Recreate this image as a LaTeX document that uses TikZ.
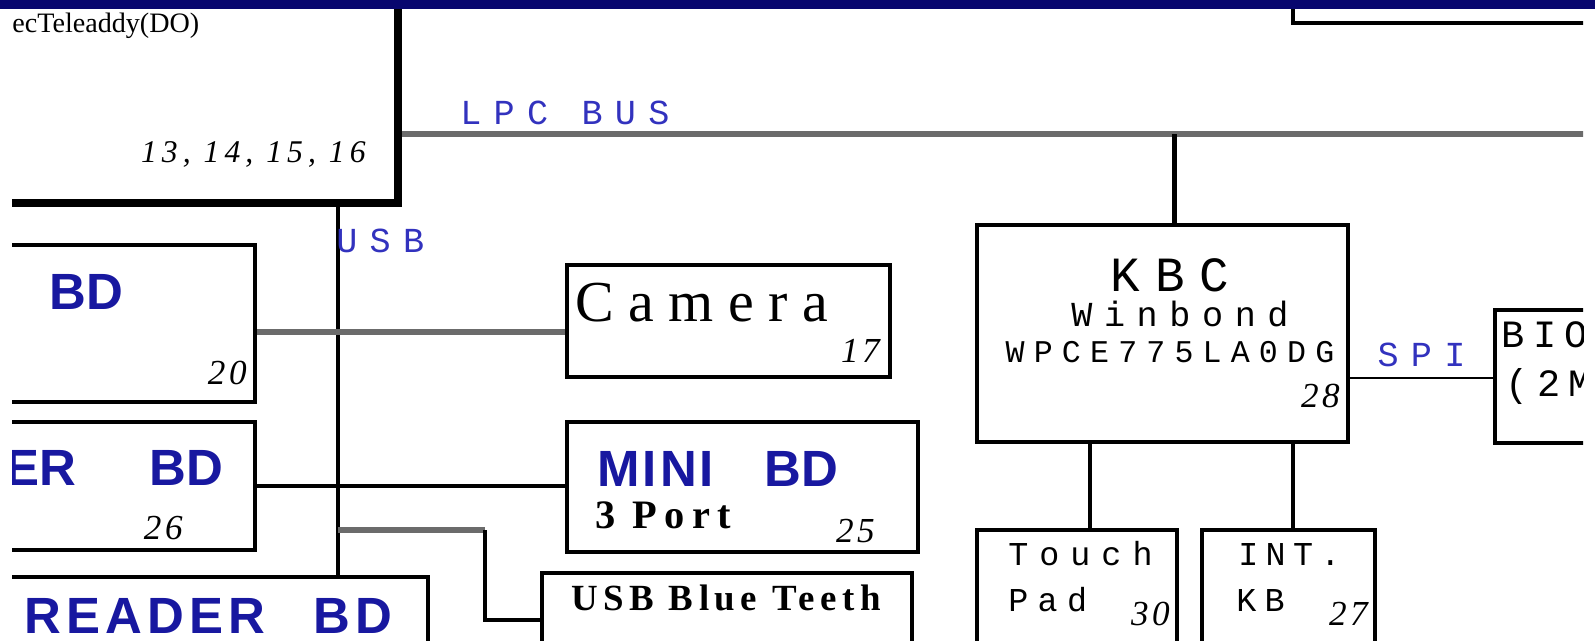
\documentclass[tikz,border=0pt]{standalone}
\usepackage{fontspec}
\setmainfont{Liberation Serif}
\newfontfamily\labelsans{Liberation Sans}
\newfontfamily\chipfont{Liberation Mono}
\usetikzlibrary{positioning}

\definecolor{navybar}{RGB}{8,6,110}
\definecolor{titleblue}{RGB}{24,24,160}
\definecolor{busblue}{RGB}{50,50,190}
\definecolor{wiregray}{RGB}{107,107,107}

\newcommand{\spaced}[2]{{\addfontfeature{LetterSpace=#1}#2}}

\begin{document}
\begin{tikzpicture}[
    x=0.02cm, y=-0.02cm,
    % Styles
    box/.style={
        rectangle,
        draw=black,
        line width=2.6pt,
        inner sep=0pt
    },
    sbbox/.style={
        box,
        line width=4.6pt
    },
    wire/.style={
        line width=2.3pt,
        black
    },
    graywire/.style={
        line width=3pt,
        wiregray
    },
    bus/.style={
        line width=3.6pt,
        wiregray
    },
    title/.style={
        inner sep=0pt,
        text=titleblue,
        font=\fontsize{29}{32}\selectfont\labelsans\bfseries
    },
    buslabel/.style={
        inner sep=0pt,
        text=busblue,
        font=\fontsize{20}{22}\selectfont\chipfont
    },
    chip/.style={
        inner sep=0pt,
        font=\fontsize{#1}{#1}\selectfont\chipfont
    },
    chip/.default=19,
    pgnum/.style={
        inner sep=0pt,
        anchor=base east,
        font=\fontsize{20}{22}\selectfont\itshape
    }
]
\useasboundingbox (0,0) rectangle (1595,641);

\begin{scope}
\clip (12,0) rectangle (1583,641);

% South bridge (only its corner shows)
\node[sbbox, minimum width=9.96cm, minimum height=6.06cm] (sb) at (149,51.5) {};
\node[inner sep=0pt, anchor=base west, font=\fontsize{16}{18}\selectfont] (sbname) at (12,33) {ecTeleaddy(DO)};
\node[inner sep=0pt, anchor=base east, font=\fontsize{18}{20}\selectfont\itshape] (sbpages) at (366,163) {\spaced{16}{13, 14, 15, 16}};

% Box at the top right
\node[box, line width=2pt, minimum width=8.14cm, minimum height=2.46cm] (topbox) at (1496.5,-38.5) {};

% Boards on the left
\node[box, minimum width=7.1cm, minimum height=3.14cm] (bd) at (77.5,323.5) {};
\node[title, anchor=base west] (bdname) at (49,310) {BD};
\node[pgnum] (bdpage) at (247,385) {\spaced{10}{20}};

\node[box, minimum width=7.1cm, minimum height=2.56cm] (erbd) at (77.5,486) {};
\node[title, anchor=base east] (erbdname) at (224,485) {ER\hspace{1.45em}BD};
\node[pgnum] (erbdpage) at (183,540) {\spaced{10}{26}};

\node[box, minimum width=10.56cm, minimum height=3.26cm] (reader) at (164,658.5) {};
\node[title, anchor=base west] (readername) at (24,633) {\spaced{10}{READER\hspace{0.95em}BD}};

% USB devices
\node[box, minimum width=6.46cm, minimum height=2.24cm] (camera) at (728.5,321) {};
\node[inner sep=0pt, anchor=base west, font=\fontsize{33}{36}\selectfont] (cameraname) at (575,322) {\spaced{25}{Camera}};
\node[pgnum] (camerapage) at (880,363) {\spaced{10}{17}};

\node[box, minimum width=7.02cm, minimum height=2.6cm] (mini) at (742.5,487) {};
\node[title, anchor=base west] (mininame) at (597,486) {\spaced{6}{MINI}\hspace{1em}BD};
\node[inner sep=0pt, anchor=base west, font=\fontsize{23}{25}\selectfont\bfseries] (miniports) at (595,528) {\spaced{18}{3 Port}};
\node[pgnum] (minipage) at (875,542) {\spaced{10}{25}};

\node[box, minimum width=7.4cm, minimum height=3.34cm] (bt) at (727,656.5) {};
\node[inner sep=0pt, anchor=base west, font=\fontsize{21}{23}\selectfont\bfseries] (btname) at (571,610) {\spaced{15}{USB Blue Teeth}};

% KBC and its devices
\node[box, minimum width=7.42cm, minimum height=4.34cm] (kbc) at (1162.5,333.5) {};
\node[chip=28, anchor=base] (kbcname) at (1170,292) {\spaced{30}{KBC}};
\node[chip=20, anchor=base] (kbcmaker) at (1180,327) {\spaced{33}{Winbond}};
\node[chip=18, anchor=base] (kbcpart) at (1170,363) {\spaced{29}{WPCE775LA0DG}};
\node[pgnum] (kbcpage) at (1340,408) {\spaced{10}{28}};

\node[box, minimum width=4.1cm, minimum height=2.66cm] (bios) at (1597.5,376.5) {};
\node[chip=22, anchor=base west] (biosname) at (1501,348) {\spaced{22}{BIOS}};
\node[chip=22, anchor=base west] (biossize) at (1505,397) {\spaced{22}{(2MB)}};

\node[box, minimum width=4cm, minimum height=4.2cm] (touch) at (1077,635) {};
\node[chip, anchor=base west] (touchname) at (1008,565) {\spaced{33}{Touch}};
\node[chip, anchor=base west] (touchname2) at (1008,611) {\spaced{28}{Pad}};
\node[pgnum] (touchpage) at (1170,625) {\spaced{10}{30}};

\node[box, minimum width=3.46cm, minimum height=4.2cm] (intkb) at (1288.5,635) {};
\node[chip, anchor=base west] (intkbname) at (1238,565) {\spaced{22}{INT.}};
\node[chip, anchor=base west] (intkbname2) at (1236,611) {\spaced{25}{KB}};
\node[pgnum] (intkbpage) at (1368,625) {\spaced{10}{27}};

% Buses
\coordinate (lpcend) at (1595,134);
\coordinate (usbtop) at (338,203);
\coordinate (btjog) at (485,530);

\draw[bus] (sb.east |- lpcend) -- (lpcend);
\node[buslabel, anchor=base west] (lpclabel) at (460,125) {\spaced{35}{LPC BUS}};

\draw[wire] (usbtop) -- (usbtop |- reader.north);
\node[buslabel, anchor=base west] (usblabel) at (336,253) {\spaced{35}{USB}};

% USB links
\draw[graywire] ([yshift=-0.22cm]camera.west) -- ([yshift=-0.22cm]camera.west -| bd.east);
\draw[wire] (erbd.east) -- (erbd.east -| mini.west);
\draw[graywire] (btjog -| usbtop) -- (btjog);
\draw[wire] (btjog) |- ([yshift=0.73cm]bt.west);

% KBC links
\draw[wire] ([xshift=0.24cm]kbc.north) -- ([xshift=0.24cm]kbc.north |- lpcend);
\draw[wire] ([xshift=0.26cm]touch.north) -- ([xshift=0.26cm]touch.north |- kbc.south);
\draw[wire] ([xshift=0.09cm]intkb.north) -- ([xshift=0.09cm]intkb.north |- kbc.south);
\draw[wire, line width=1.6pt] ([yshift=-0.89cm]kbc.east) -- node[buslabel, above=0.2cm] (spilabel) {\spaced{35}{SPI}} ([yshift=-0.89cm]kbc.east -| bios.west);
\end{scope}

% Title bar
\fill[navybar] (0,0) rectangle (1595,9);

\end{tikzpicture}
\end{document}
